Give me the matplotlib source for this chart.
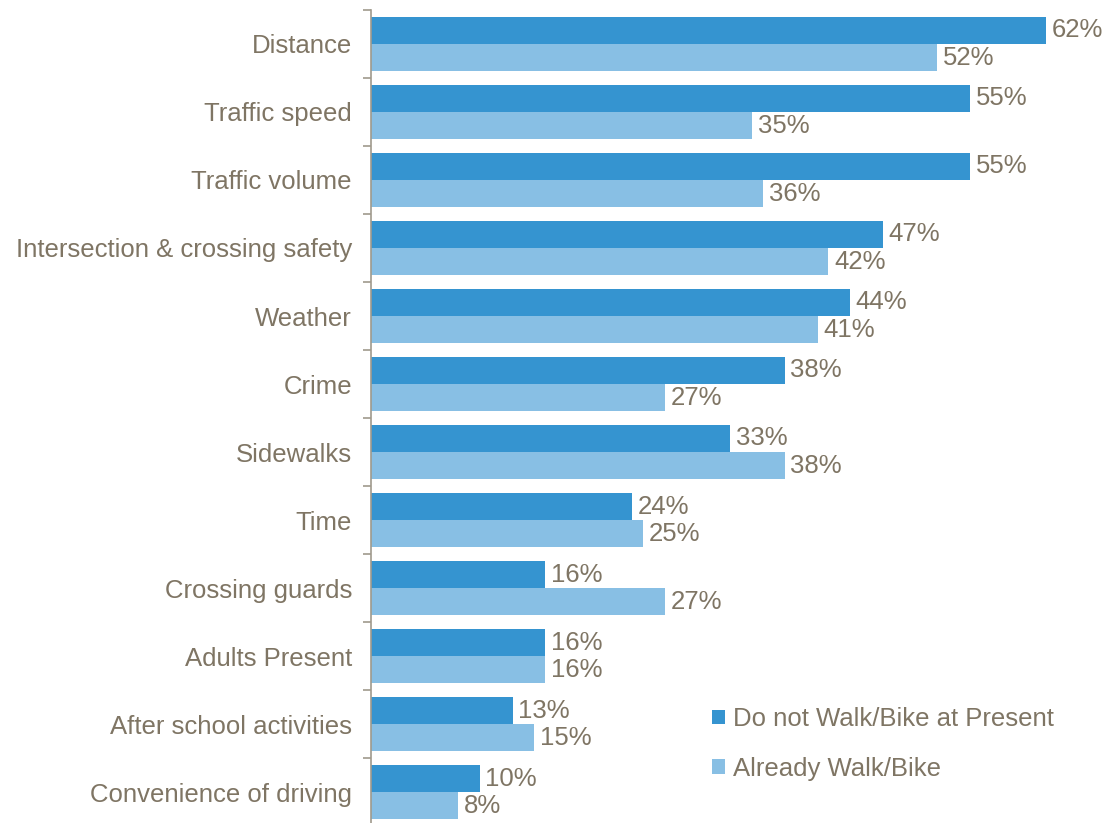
import matplotlib.pyplot as plt
import numpy as np

# Data
categories = ['Distance', 'Traffic speed', 'Traffic volume', 'Intersection & crossing safety',
              'Weather', 'Crime', 'Sidewalks', 'Time', 'Crossing guards', 'Adults Present',
              'After school activities', 'Convenience of driving']
do_not_walk = [62, 55, 55, 47, 44, 38, 33, 24, 16, 16, 13, 10]
already_walk = [52, 35, 36, 42, 41, 27, 38, 25, 27, 16, 15, 8]
series_names = ['Do not Walk/Bike at Present', 'Already Walk/Bike']

DARK = '#3594d0'
LIGHT = '#88bfe4'
TEXT = '#7f7564'
FS = 18.5

plt.rcParams['font.family'] = ['Liberation Sans', 'DejaVu Sans']

fig = plt.figure(figsize=(11.04, 8.23), dpi=100)
ax = fig.add_axes([0.336, -0.004, 0.664, 0.992])

y = np.arange(len(categories))
h = 0.4
b1 = ax.barh(y - h / 2, do_not_walk, height=h, color=DARK, label=series_names[0])
b2 = ax.barh(y + h / 2, already_walk, height=h, color=LIGHT, label=series_names[1])

ax.bar_label(b1, labels=[f'{v}%' for v in do_not_walk], padding=4, fontsize=FS, color=TEXT)
ax.bar_label(b2, labels=[f'{v}%' for v in already_walk], padding=4, fontsize=FS, color=TEXT)

ax.set_xlim(0, 67.3)
ax.set_ylim(len(categories) - 0.5, -0.5)

for s in ['top', 'right', 'bottom']:
    ax.spines[s].set_visible(False)
ax.spines['left'].set_color('#a09a8c')
ax.spines['left'].set_linewidth(1.2)
ax.set_xticks([])

ax.set_yticks(y)
ax.set_yticklabels(categories, fontsize=FS, color=TEXT)
ax.tick_params(axis='y', which='major', length=0, pad=13.7)
ax.set_yticks(np.arange(-0.5, len(categories), 1), minor=True)
ax.tick_params(axis='y', which='minor', length=6, color='#a09a8c', width=1.2)

ax.legend(loc='upper left', bbox_to_anchor=(712 / 1104, 1 - 707 / 823), bbox_transform=fig.transFigure,
          frameon=False, fontsize=FS, labelcolor=TEXT, handlelength=0.5, handleheight=0.5,
          handletextpad=0.3, labelspacing=1.0, borderpad=0, borderaxespad=0)

fig.savefig('out.png', dpi=100)
